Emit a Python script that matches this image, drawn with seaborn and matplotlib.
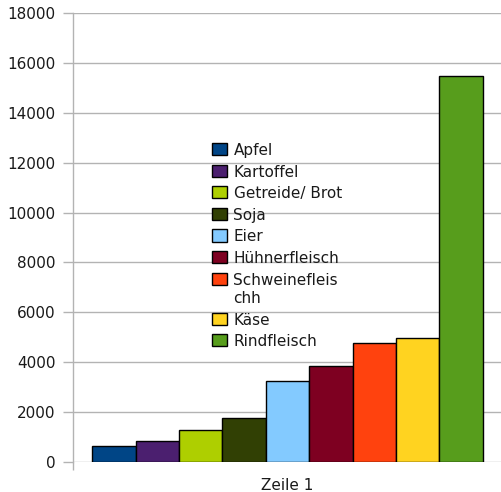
import matplotlib
matplotlib.use("Agg")
import matplotlib.pyplot as plt
import seaborn as sns
import pandas as pd

categories = ["Apfel", "Kartoffel", "Getreide/ Brot", "Soja", "Eier",
              "Hühnerfleisch", "Schweinefleis\nchh", "Käse", "Rindfleisch"]
values = [650, 840, 1270, 1760, 3240, 3850, 4770, 4960, 15470]
group = ["Zeile 1"] * len(categories)
colors = ["#004586", "#4b1f6f", "#aecf00", "#314004", "#83caff",
          "#7e0021", "#ff420e", "#ffd320", "#579d1c"]
yticks = [0, 2000, 4000, 6000, 8000, 10000, 12000, 14000, 16000, 18000]

df = pd.DataFrame({"Zeile": group, "Kategorie": categories, "Wert": values})

sns.set_theme(style="white")
plt.rcParams["font.family"] = ["DejaVu Sans"]
plt.rcParams["font.size"] = 11

fig = plt.figure(figsize=(5.02, 4.92), dpi=100)
ax = fig.add_axes([73 / 502, 1 - 462 / 492, 429 / 502, 449 / 492])

sns.barplot(data=df, x="Zeile", y="Wert", hue="Kategorie", palette=colors,
            width=0.91, edgecolor="black", linewidth=1, saturation=1,
            ax=ax, zorder=3)

ax.set_xlim(-0.5, 0.5)
ax.set_ylim(0, 18000)
ax.set_yticks(yticks)
ax.set_yticklabels([str(v) for v in yticks], color="#1a1a1a")
ax.yaxis.grid(True, color="#b3b3b3", linewidth=1)
ax.set_axisbelow(True)
ax.set_xlabel("")
ax.set_ylabel("")

for s in ["top", "right", "bottom"]:
    ax.spines[s].set_visible(False)
ax.spines["left"].set_color("#b3b3b3")
ax.spines["left"].set_linewidth(1)

ax.tick_params(axis="y", which="major", left=True, length=7.2, width=1,
               color="#b3b3b3", pad=5.5, labelsize=11)
ax.set_xticks([-0.5, 0.5], minor=True)
ax.tick_params(axis="x", which="minor", bottom=True, length=6, width=1,
               color="#b3b3b3", direction="out")
ax.tick_params(axis="x", which="major", bottom=False, length=0, pad=11.5,
               labelsize=11, labelcolor="#1a1a1a")

handles, labels = ax.get_legend_handles_labels()
leg = ax.legend(handles, labels, loc="upper left",
                bbox_to_anchor=(206 / 502, 1 - 137 / 492),
                bbox_transform=fig.transFigure, frameon=False, handlelength=0.95,
                handleheight=0.85, handletextpad=0.45, labelspacing=0.43,
                fontsize=11, labelcolor="#1a1a1a", borderaxespad=0)
for t in leg.get_texts():
    t.set_linespacing(1.3)
for col in leg._legend_handle_box.get_children():
    for item in col.get_children():
        item.align = "top"

fig.savefig("out.png", dpi=100)
